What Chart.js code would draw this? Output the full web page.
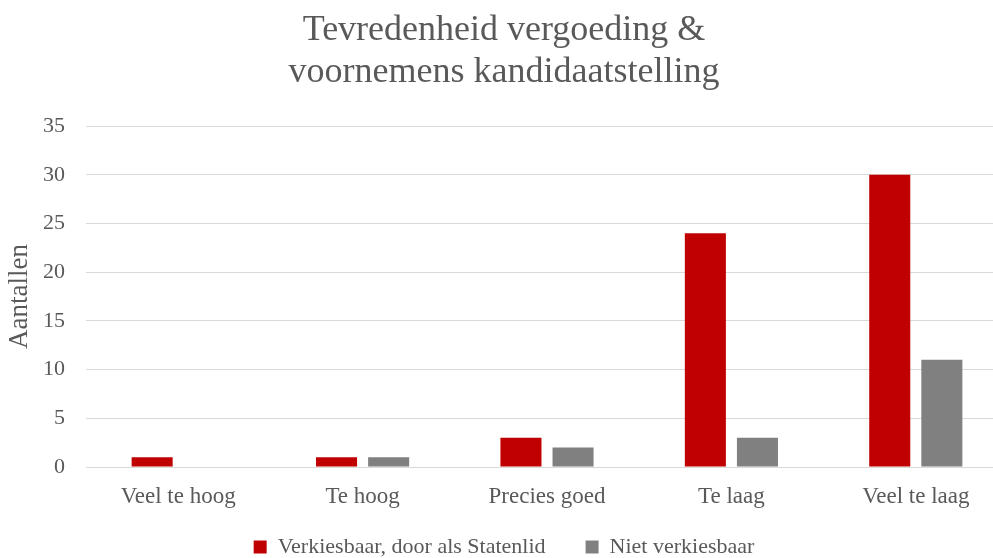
<!DOCTYPE html>
<html>
<head>
<meta charset="utf-8">
<script src="https://cdn.jsdelivr.net/npm/chart.js@4/dist/chart.umd.min.js"></script>
<style>
html,body{margin:0;padding:0;background:#fff;overflow:hidden;width:993px;height:558px;}
#wrap{position:absolute;left:0;top:0;width:1008px;height:558px;}
</style>
</head>
<body>
<div id="wrap"><canvas id="c" width="1008" height="558"></canvas></div>
<script>
const categories = ["Veel te hoog", "Te hoog", "Precies goed", "Te laag", "Veel te laag"];
const seriesNames = ["Verkiesbaar, door als Statenlid", "Niet verkiesbaar"];
const verkiesbaar = [1, 1, 3, 24, 30];
const nietVerkiesbaar = [0, 1, 2, 3, 11];
const titleLines = ["Tevredenheid vergoeding &", "voornemens kandidaatstelling"];
const yAxisTitle = "Aantallen";

const FONT = "'Liberation Serif', 'Times New Roman', serif";
const TXT = "#595959";

const legendPlacePlugin = {
  id: 'legendPlace',
  afterInit(chart) {
    const lg = chart.legend;
    if (!lg) return;
    const orig = lg.fit.bind(lg);
    lg.fit = function () { orig(); this.height = 33; };
  },
  afterLayout(chart) {
    const lg = chart.legend;
    if (!lg) return;
    lg.top = 496;
    lg.bottom = 558;
  }
};

new Chart(document.getElementById('c'), {
  type: 'bar',
  data: {
    labels: categories,
    datasets: [
      { label: seriesNames[0], data: verkiesbaar, backgroundColor: '#C00000', borderWidth: 0 },
      { label: seriesNames[1], data: nietVerkiesbaar, backgroundColor: '#808080', borderWidth: 0 }
    ]
  },
  plugins: [legendPlacePlugin],
  options: {
    responsive: false,
    animation: false,
    devicePixelRatio: 1,
    layout: { padding: 0 },
    datasets: { bar: { categoryPercentage: 0.565, barPercentage: 0.788 } },
    plugins: {
      title: {
        display: true,
        text: titleLines,
        color: TXT,
        font: { family: FONT, size: 36, weight: 'normal', lineHeight: 1.167 },
        padding: { top: 10, bottom: 32 }
      },
      legend: {
        position: 'bottom',
        labels: {
          color: TXT,
          font: { family: FONT, size: 22 },
          boxWidth: 13, boxHeight: 13,
          padding: 40
        }
      },
      tooltip: { enabled: false }
    },
    scales: {
      x: {
        grid: { display: false },
        border: { display: false },
        ticks: { color: TXT, font: { family: FONT, size: 23 }, padding: 8, maxRotation: 0 },
        afterFit: s => { s.height = 58; }
      },
      y: {
        min: 0, max: 35,
        ticks: { stepSize: 5, color: TXT, font: { family: FONT, size: 22 }, padding: 21 },
        grid: { color: '#D9D9D9', lineWidth: 1, drawTicks: false },
        border: { display: false },
        title: { display: true, text: yAxisTitle, color: TXT, font: { family: FONT, size: 27 }, padding: { top: 4, bottom: 0 } },
        afterFit: s => { s.width = 86; }
      }
    }
  }
});
</script>
</body>
</html>
